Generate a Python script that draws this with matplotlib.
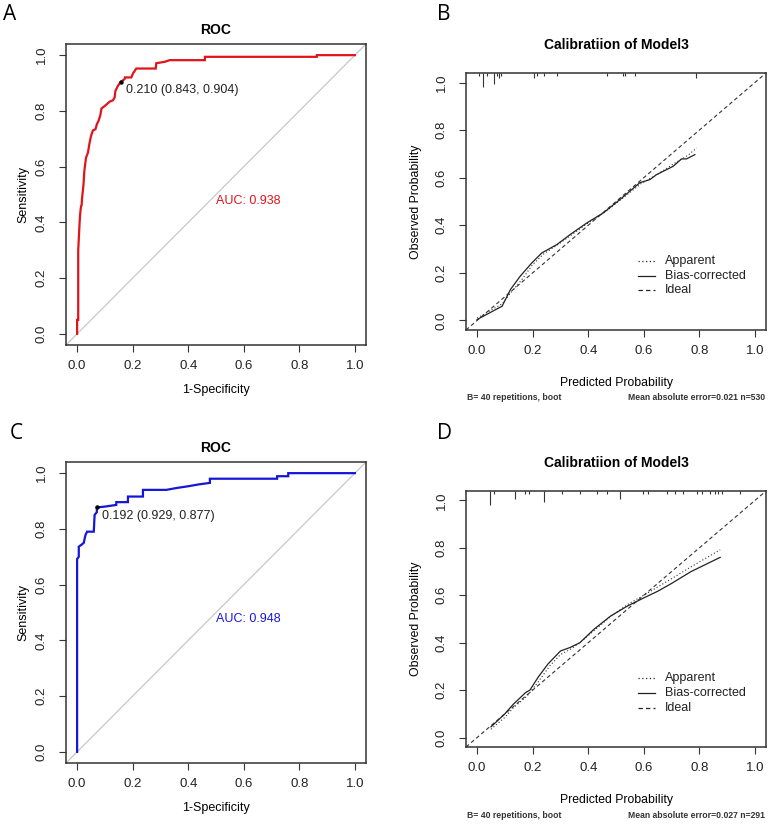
import numpy as np
import matplotlib.pyplot as plt
import matplotlib.transforms as mtransforms

plt.rcParams['font.family'] = ['Liberation Sans', 'DejaVu Sans']

# ---- data: ROC, training set (A) ----
roc_a_fpr = [0.0, 0.0, 0.004, 0.004, 0.007, 0.009, 0.011, 0.014, 0.016, 0.018, 0.023, 0.026,
             0.032, 0.039, 0.045, 0.050, 0.057, 0.066, 0.071, 0.077, 0.083, 0.088, 0.095, 0.107,
             0.117, 0.129, 0.135, 0.138, 0.147, 0.157, 0.171, 0.172, 0.195, 0.201, 0.213, 0.283,
             0.285, 0.315, 0.333, 0.460, 0.460, 0.863, 0.863, 1.0]
roc_a_sens = [0.0, 0.05, 0.05, 0.30, 0.36, 0.40, 0.43, 0.458, 0.46, 0.488, 0.536, 0.584,
              0.632, 0.65, 0.686, 0.71, 0.73, 0.734, 0.752, 0.764, 0.782, 0.809, 0.814, 0.824,
              0.833, 0.838, 0.848, 0.872, 0.89, 0.904, 0.914, 0.92, 0.92, 0.934, 0.952, 0.952,
              0.971, 0.976, 0.982, 0.982, 0.994, 0.994, 1.0, 1.0]
roc_a_auc = 0.938
roc_a_thr = (0.210, 0.843, 0.904)

# ---- data: ROC, validation set (C) ----
roc_c_fpr = [0.0, 0.0, 0.006, 0.006, 0.018, 0.024, 0.030, 0.036, 0.060, 0.063, 0.071, 0.071,
             0.100, 0.141, 0.141, 0.183, 0.183, 0.237, 0.237, 0.321, 0.360, 0.400, 0.440, 0.478,
             0.478, 0.720, 0.720, 0.760, 0.760, 1.0]
roc_c_sens = [0.0, 0.692, 0.70, 0.736, 0.745, 0.75, 0.778, 0.79, 0.79, 0.85, 0.86, 0.877,
              0.88, 0.886, 0.896, 0.896, 0.916, 0.916, 0.94, 0.94, 0.947, 0.953, 0.96, 0.965,
              0.98, 0.98, 0.989, 0.989, 1.0, 1.0]
roc_c_auc = 0.948
roc_c_thr = (0.192, 0.929, 0.877)

# ---- data: calibration (B) ----
cal_b_bias_x = [0.0, 0.09, 0.12, 0.155, 0.197, 0.233, 0.287, 0.335, 0.395, 0.454, 0.514,
                0.586, 0.622, 0.646, 0.706, 0.736, 0.754, 0.784]
cal_b_bias_y = [0.004, 0.06, 0.13, 0.186, 0.242, 0.284, 0.319, 0.361, 0.41, 0.452, 0.508,
                0.579, 0.592, 0.613, 0.648, 0.679, 0.679, 0.697]
cal_b_app_x = [0.0, 0.09, 0.12, 0.16, 0.2, 0.24, 0.29, 0.34, 0.4, 0.46, 0.52, 0.59, 0.65,
               0.71, 0.76, 0.79]
cal_b_app_y = [0.01, 0.07, 0.115, 0.17, 0.235, 0.28, 0.318, 0.36, 0.41, 0.455, 0.51, 0.575,
               0.615, 0.66, 0.695, 0.725]
rug_b_x = [0.008, 0.02, 0.035, 0.061, 0.073, 0.08, 0.085, 0.203, 0.215, 0.239, 0.287,
           0.466, 0.526, 0.532, 0.568, 0.788]
rug_b_n = [1, 5, 1, 4, 1, 2, 1, 2, 1, 1, 1, 1, 1, 1, 1, 2]
cal_b_note = ("B= 40 repetitions, boot", "Mean absolute error=0.021 n=530")

# ---- data: calibration (D) ----
cal_d_bias_x = [0.05, 0.1, 0.13, 0.175, 0.19, 0.22, 0.255, 0.3, 0.335, 0.37, 0.42, 0.48,
                0.54, 0.6, 0.65, 0.7, 0.77, 0.875]
cal_d_bias_y = [0.045, 0.1, 0.14, 0.19, 0.2, 0.255, 0.31, 0.365, 0.38, 0.4, 0.456, 0.512,
                0.554, 0.589, 0.617, 0.65, 0.70, 0.76]
cal_d_app_x = [0.05, 0.1, 0.13, 0.18, 0.22, 0.26, 0.3, 0.34, 0.38, 0.43, 0.48, 0.54, 0.6,
               0.65, 0.7, 0.77, 0.875]
cal_d_app_y = [0.035, 0.085, 0.125, 0.175, 0.235, 0.3, 0.35, 0.375, 0.41, 0.46, 0.51, 0.56,
               0.6, 0.635, 0.67, 0.72, 0.792]
rug_d_x = [0.047, 0.061, 0.137, 0.173, 0.188, 0.241, 0.305, 0.37, 0.43, 0.466, 0.514,
           0.598, 0.616, 0.682, 0.712, 0.742, 0.79, 0.808, 0.838, 0.856, 0.868, 0.88, 0.946]
rug_d_n = [5, 1, 3, 1, 1, 4, 1, 1, 1, 1, 3, 1, 1, 1, 1, 1, 1, 1, 1, 1, 1, 1, 1]
cal_d_note = ("B= 40 repetitions, boot", "Mean absolute error=0.027 n=291")

ticks = [0.0, 0.2, 0.4, 0.6, 0.8, 1.0]
tick_labels = ["0.0", "0.2", "0.4", "0.6", "0.8", "1.0"]
legend_labels = ["Apparent", "Bias-corrected", "Ideal"]

DASH = (0, (3.5, 2.5))
DOT = (0, (1, 2))

W, H = 772, 825
fig = plt.figure(figsize=(W / 100, H / 100), dpi=100)
fig.patch.set_facecolor('white')


def rect(l, t, r, b):
    return [l / W, 1 - b / H, (r - l) / W, (b - t) / H]


def ftext(x, y, s, **kw):
    fig.text(x / W, 1 - y / H, s, **kw)


def r_style(ax):
    ax.set_xlim(-0.04, 1.04)
    ax.set_ylim(-0.04, 1.04)
    ax.set_xticks(ticks)
    ax.set_xticklabels(tick_labels)
    ax.set_yticks(ticks)
    ax.set_yticklabels(tick_labels, rotation=90, va='center')
    ax.tick_params(direction='out', length=5, width=0.8, color='#333333',
                   labelsize=9.5, labelcolor='#222222')
    ax.tick_params(axis='x', pad=6)
    ax.tick_params(axis='y', pad=8)
    for s in ax.spines.values():
        s.set_color('#333333')
        s.set_linewidth(1.1)


def roc_panel(box, fpr, sens, auc, thr, color, letter, lx, ly):
    l, t, r, b = box
    ax = fig.add_axes(rect(l, t, r, b))
    r_style(ax)
    ax.plot([-0.04, 1.04], [-0.04, 1.04], color='#c8c8c8', lw=0.9)
    ax.plot(fpr, sens, color=color, lw=1.6, solid_joinstyle='miter')
    cut, spec, se = thr
    ax.plot([1 - spec], [se], 'o', color='black', ms=2.2)
    ax.text(1 - spec + 0.02, se - 0.03, f"{cut:.3f} ({spec:.3f}, {se:.3f})",
            fontsize=9, color='#222222', ha='left', va='center')
    ax.text(0.5, 0.5, f"AUC: {auc:.3f}", fontsize=9, color=color, ha='left', va='top')
    ftext((l + r) / 2, t - 14, "ROC", fontsize=10, fontweight='bold', ha='center', va='center')
    ftext((l + r) / 2, b + 45, "1-Specificity", fontsize=9, ha='center', va='center')
    ftext(23, (t + b) / 2, "Sensitivity", fontsize=9, rotation=90, ha='center', va='center')
    ftext(lx, ly, letter, fontsize=15, family=['Open Sans', 'DejaVu Sans'], ha='left', va='center')


def cal_panel(box, bx, by, axp, ayp, rx, rn, note, letter, ly):
    l, t, r, b = box
    ax = fig.add_axes(rect(l, t, r, b))
    r_style(ax)
    ax.plot([-0.04, 1.04], [-0.04, 1.04], color='#333333', lw=0.8, ls=DASH)
    ax.plot(axp, ayp, color='#333333', lw=0.8, ls=DOT)
    ax.plot(bx, by, color='#222222', lw=0.9)
    trans = mtransforms.blended_transform_factory(ax.transData, ax.transAxes)
    unit = 2.7 / (b - t)
    ax.vlines(rx, [1 - n * unit for n in rn], 1.0, color='#333333', lw=0.8, transform=trans)
    # legend
    styles = [DOT, '-', DASH]
    for i, (lab, st) in enumerate(zip(legend_labels, styles)):
        yy = 0.268 - i * 0.057
        ax.plot([0.573, 0.63], [yy, yy], color='#222222', lw=0.9, ls=st,
                transform=ax.transAxes)
        ax.text(0.663, yy, lab, fontsize=9, color='#222222', ha='left', va='center',
                transform=ax.transAxes)
    ftext((l + r) / 2, t - 28, "Calibratiion of Model3", fontsize=10, fontweight='bold',
          ha='center', va='center')
    ftext((l + r) / 2, b + 53, "Predicted Probability", fontsize=8.8, ha='center', va='center')
    ftext(l + 1, b + 68, note[0], fontsize=6.2, fontweight='bold', ha='left', va='center',
          color='#333333')
    ftext(r - 1, b + 68, note[1], fontsize=6.2, fontweight='bold', ha='right', va='center',
          color='#333333')
    ftext(416, (t + b) / 2, "Observed Probability", fontsize=8.8, rotation=90,
          ha='center', va='center')
    ftext(437, ly, letter, fontsize=15, family=['Open Sans', 'DejaVu Sans'], ha='left', va='center')


roc_panel((66, 44, 366, 345), roc_a_fpr, roc_a_sens, roc_a_auc, roc_a_thr, '#e0141a',
          "A", 3, 15)
cal_panel((466, 73, 766, 330), cal_b_bias_x, cal_b_bias_y, cal_b_app_x, cal_b_app_y,
          rug_b_x, rug_b_n, cal_b_note, "B", 15)
roc_panel((66, 462, 366, 763), roc_c_fpr, roc_c_sens, roc_c_auc, roc_c_thr, '#1616d8',
          "C", 10, 433)
cal_panel((466, 491, 766, 747), cal_d_bias_x, cal_d_bias_y, cal_d_app_x, cal_d_app_y,
          rug_d_x, rug_d_n, cal_d_note, "D", 433)

fig.savefig("out.png", dpi=100)
